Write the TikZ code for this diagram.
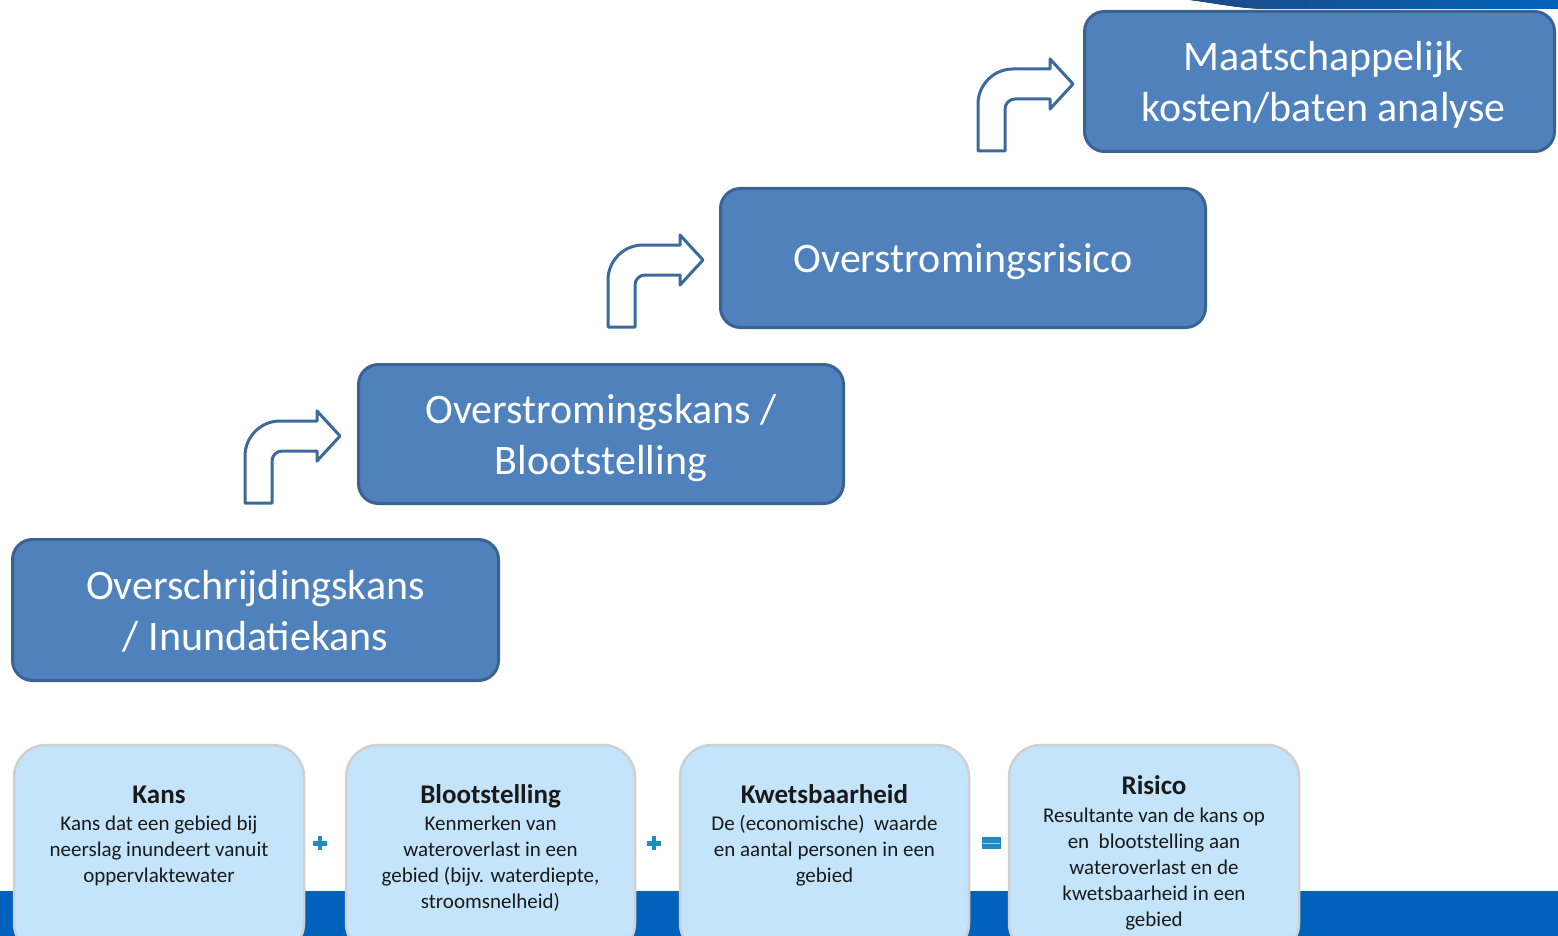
\documentclass[tikz,border=0pt]{standalone}
\usepackage{fontspec}
\setmainfont{Carlito}
\definecolor{boxblue}{HTML}{4F81BD}
\definecolor{boxedge}{HTML}{3A6394}
\definecolor{arrowedge}{HTML}{3C6A9C}
\definecolor{lightfill}{HTML}{C3E4FB}
\definecolor{lightedge}{HTML}{D0D0D0}
\definecolor{barblue}{HTML}{0062BA}
\definecolor{signblue}{HTML}{1E8BC3}
\definecolor{navy}{HTML}{1B4A86}
\definecolor{bodytext}{HTML}{1A1A1A}
\tikzset{
 pics/bentarrow/.style={code={
   \path[arrowshape] (0,0) -- (0,-47) .. controls (0,-66.3) and (15.7,-82) .. (35,-82)
     -- (72,-82) -- (72,-92) -- (95,-67) -- (72,-42) -- (72,-52) -- (37,-52)
     .. controls (31.5,-52) and (27,-47.5) .. (27,-42) -- (27,0) -- cycle;
 }}
}
\begin{document}
\begin{tikzpicture}[x=1pt,y=-1pt,
 bigbox/.style={draw=boxedge, line width=3pt, fill=boxblue, rounded corners=20pt, inner sep=0pt},
 bigtext/.style={text=white, align=center, font=\fontsize{42}{51}\selectfont, inner sep=0pt},
 smallbox/.style={draw=lightedge, line width=2.5pt, fill=lightfill, rounded corners=32pt, inner sep=0pt},
 ttl/.style={anchor=base, font=\fontsize{27}{32}\selectfont\bfseries, text=bodytext, inner sep=0pt},
 bodytxt/.style={anchor=base, align=center, font=\fontsize{21}{26}\selectfont, text=bodytext, inner sep=0pt},
 arrowshape/.style={draw=arrowedge, line width=3pt, fill=white, line join=round},
 sign/.style={fill=signblue, draw=none}
]
\useasboundingbox (0,0) rectangle (1558,936);
\clip (0,0) rectangle (1558,936);
\fill[white] (0,0) rectangle (1558,936);
% bottom bar
\fill[barblue] (0,891) rectangle (1558,936);
% top swoosh
\fill[left color=navy, right color=barblue] (1190,0) .. controls (1215,3) and (1235,8) .. (1265,9) -- (1558,9) -- (1558,0) -- cycle;

% big boxes
\node[bigbox, minimum width=486pt, minimum height=141pt] (b1) at (255.5,610) {};
\node[bigtext, yshift=-1pt] (b1t) at (b1) {Overschrijdingskans\\/ Inundatiekans};
\node[bigbox, minimum width=485pt, minimum height=139pt] (b2) at (601,434) {};
\node[bigtext, yshift=-4pt] (b2t) at (b2) {Overstromingskans /\\Blootstelling};
\node[bigbox, minimum width=485pt, minimum height=139pt] (b3) at (963,258) {};
\node[bigtext, yshift=-4pt] (b3t) at (b3) {Overstromingsrisico};
\node[bigbox, minimum width=470pt, minimum height=140pt] (b4) at (1319.5,81.5) {};
\node[bigtext, yshift=-3pt, xshift=4pt] (b4t) at (b4) {Maatschappelijk\\kosten/baten analyse};

% bent arrows
\pic (a1) at (245,503) {bentarrow};
\pic (a2) at (608,327) {bentarrow};
\pic (a3) at (978,151) {bentarrow};

% bottom boxes
\node[smallbox, minimum width=290pt, minimum height=210pt] (kA) at (159,850) {};
\node[smallbox, minimum width=289pt, minimum height=210pt] (kB) at (490.5,850) {};
\node[smallbox, minimum width=289pt, minimum height=210pt] (kC) at (824.5,850) {};
\node[smallbox, minimum width=290pt, minimum height=210pt] (kD) at (1154,850) {};

\node[ttl] (tA) at (159,803) {Kans};
\node[bodytxt] (xA) at (159,882) {Kans dat een gebied bij\\neerslag inundeert vanuit\\oppervlaktewater};
\node[ttl] (tB) at (490.5,803) {Blootstelling};
\node[bodytxt] (xB) at (490.5,908) {Kenmerken van\\wateroverlast in een\\gebied (bijv. waterdiepte,\\stroomsnelheid)};
\node[ttl] (tC) at (824.5,803) {Kwetsbaarheid};
\node[bodytxt] (xC) at (824.5,882) {De (economische)\ \ waarde\\en aantal personen in een\\gebied};
\node[ttl] (tD) at (1154,794) {Risico};
\node[bodytxt] (xD) at (1154,926) {Resultante van de kans op\\en\ \ blootstelling aan\\wateroverlast en de\\kwetsbaarheid in een\\gebied};

% operators
\fill[sign] (313,840.7) rectangle (327,845.5);
\fill[sign] (317.6,836) rectangle (322.4,850);
\fill[sign] (647,840.7) rectangle (661,845.5);
\fill[sign] (651.6,836) rectangle (656.4,850);
\fill[sign] (982,837) rectangle (1001,849);
\draw[signblue!40!white, line width=1pt] (983,843) -- (1000,843);
\end{tikzpicture}
\end{document}
